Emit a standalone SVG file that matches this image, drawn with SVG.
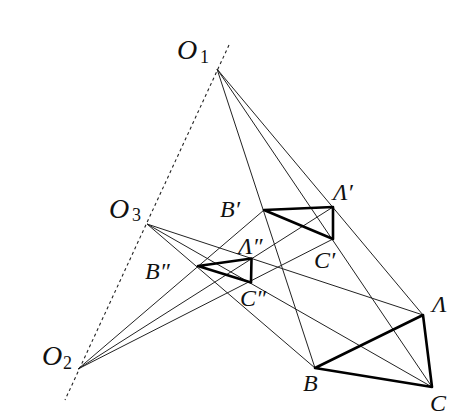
<svg xmlns="http://www.w3.org/2000/svg" width="473" height="420" viewBox="0 0 473 420">
<style>
.thin{stroke:#222;stroke-width:1;fill:none}
.thick{stroke:#000;stroke-width:2.6;fill:none;stroke-linejoin:round}
.axis{stroke:#222;stroke-width:1.1;stroke-dasharray:3,3;fill:none}
.lbl{font-family:"Liberation Serif",serif;font-style:italic;font-size:24px;fill:#111}
.olbl{font-family:"Liberation Serif",serif;font-style:italic;font-size:28px;fill:#111}
.sub{font-family:"Liberation Serif",serif;font-size:18px;fill:#111}
</style>
<rect width="473" height="420" fill="#fff"/>
<g id="connectors">
<line class="axis" x1="229" y1="45" x2="65" y2="400"/>
<line class="thin" x1="217" y1="69" x2="423" y2="315"/>
<line class="thin" x1="217" y1="69" x2="315" y2="368"/>
<line class="thin" x1="217" y1="69" x2="432" y2="387"/>
<line class="thin" x1="78" y1="369" x2="333" y2="207"/>
<line class="thin" x1="78" y1="369" x2="264" y2="210"/>
<line class="thin" x1="78" y1="369" x2="333" y2="239"/>
<line class="thin" x1="147" y1="224" x2="423" y2="315"/>
<line class="thin" x1="147" y1="224" x2="315" y2="368"/>
<line class="thin" x1="147" y1="224" x2="432" y2="387"/>
</g>
<g id="triangle-ABC">
<polygon class="thick" points="423,315 315,368 432,387"/>
<text class="lbl" x="432" y="312">Λ</text>
<text class="lbl" x="303" y="391">B</text>
<text class="lbl" x="430" y="411">C</text>
</g>
<g id="triangle-A1B1C1">
<polygon class="thick" points="333,207 264,210 333,239"/>
<text class="lbl" x="333" y="200">Λ′</text>
<text class="lbl" x="220" y="217">B′</text>
<text class="lbl" x="314" y="268">C′</text>
</g>
<g id="triangle-A2B2C2">
<polygon class="thick" points="251.5,258.5 198,266 251,282.5"/>
<text class="lbl" x="238" y="254">Λ″</text>
<text class="lbl" x="145" y="279">B″</text>
<text class="lbl" x="240" y="306">C″</text>
</g>
<g id="O1">
<text class="olbl" x="177" y="59">O</text>
<text class="sub" x="200" y="63">1</text>
</g>
<g id="O2">
<text class="olbl" x="42" y="365">O</text>
<text class="sub" x="63" y="369">2</text>
</g>
<g id="O3">
<text class="olbl" x="109" y="218">O</text>
<text class="sub" x="132" y="221">3</text>
</g>
</svg>
